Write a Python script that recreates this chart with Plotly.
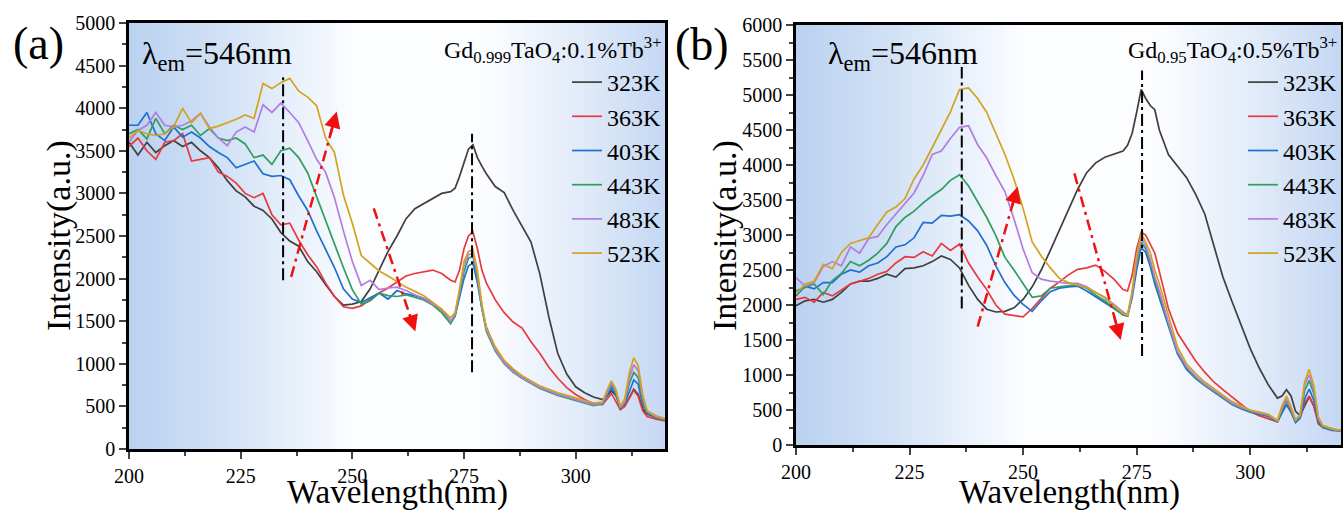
import plotly.graph_objects as go

# ---------------- data ----------------
wavelength = [200, 202, 204, 206, 208, 210, 212, 214, 216, 218, 220, 222, 224, 226, 228, 230,
              232, 234, 236, 238, 240, 242, 244, 246, 248, 250, 252, 254, 256, 258, 260, 262,
              264, 266, 268, 270, 272, 273, 274, 275, 276, 277, 278, 279, 280, 282, 284, 286,
              288, 290, 292, 294, 296, 298, 300, 302, 304, 306, 307, 308, 309, 310, 311, 312,
              313, 314, 315, 316, 318, 320]

temps = ["323K", "363K", "403K", "443K", "483K", "523K"]
colors = ["#3f3f3f", "#e8393e", "#1f6fd2", "#2f9e5e", "#b37ce0", "#d3a21e"]

# (a) Gd0.999TaO4:0.1%Tb3+
a_323 = [3600, 3450, 3600, 3480, 3560, 3620, 3550, 3600, 3500, 3420, 3300, 3150, 3030, 2960, 2850, 2800,
         2700, 2540, 2440, 2380, 2200, 2080, 1930, 1790, 1690, 1700, 1730, 1880, 2100, 2320, 2500, 2700,
         2820, 2880, 2940, 3000, 3020, 3060, 3200, 3350, 3520, 3570, 3420, 3320, 3230, 3080, 3010, 2800,
         2620, 2430, 2050, 1550, 1120, 880, 730, 660, 610, 580, 620, 680, 630, 500, 520, 600,
         700, 640, 470, 410, 370, 340]
a_363 = [3550, 3650, 3500, 3400, 3600, 3620, 3700, 3380, 3400, 3420, 3250, 3200, 3120, 3000, 2950, 3000,
         2750, 2630, 2650, 2450, 2280, 2140, 1950, 1790, 1670, 1650, 1680, 1760, 1830, 1890, 1960, 2030,
         2060, 2080, 2100, 2060, 1980, 1960, 2100, 2350, 2500, 2550, 2350, 2100, 1950, 1750, 1600, 1490,
         1420, 1260, 1120, 960, 830, 720, 640, 580, 530, 520, 580, 650, 560, 460, 500, 600,
         690, 620, 450, 380, 350, 330]
a_403 = [3800, 3800, 3950, 3700, 3620, 3780, 3660, 3720, 3650, 3550, 3480, 3420, 3300, 3340, 3380, 3230,
         3200, 3210, 3160, 2970, 2800, 2560, 2350, 2130, 1880, 1760, 1720, 1780, 1830, 1760, 1860, 1820,
         1800, 1770, 1710, 1630, 1500, 1560, 1800, 2000, 2150, 2180, 1950, 1650, 1430, 1180, 1020, 920,
         840, 780, 720, 680, 640, 610, 580, 550, 520, 530, 620, 720, 640, 480, 530, 680,
         810, 760, 520, 420, 370, 340]
a_443 = [3700, 3750, 3640, 3880, 3700, 3800, 3750, 3800, 3680, 3760, 3650, 3620, 3650, 3580, 3420, 3450,
         3340, 3500, 3530, 3420, 3240, 2960, 2680, 2420, 2130, 1870, 1700, 1740, 1830, 1800, 1790, 1810,
         1780, 1750, 1690, 1600, 1470, 1560, 1820, 2080, 2240, 2260, 2000, 1650, 1380, 1150, 1000, 900,
         830, 770, 710, 670, 630, 600, 570, 540, 510, 530, 650, 760, 660, 480, 540, 770,
         900, 840, 560, 430, 370, 340]
a_483 = [3600, 3740, 3800, 3950, 3800, 3780, 3800, 3850, 3940, 3780, 3650, 3560, 3720, 3780, 3720, 4040,
         3950, 4060, 3950, 3830, 3620, 3400, 3250, 2950, 2560, 2200, 1920, 1980, 1870, 1890, 1900, 1860,
         1810, 1770, 1700, 1640, 1500, 1580, 1850, 2150, 2280, 2300, 2050, 1680, 1400, 1170, 1010, 910,
         840, 780, 720, 680, 640, 610, 580, 550, 520, 540, 670, 780, 680, 490, 560, 830,
         990, 920, 600, 440, 380, 350]
a_523 = [3650, 3740, 3700, 3680, 3700, 3780, 4000, 3830, 3940, 3760, 3790, 3830, 3870, 3920, 3880, 4290,
         4230, 4300, 4350, 4200, 4130, 4030, 3650, 3480, 2980, 2650, 2270, 2180, 2090, 2030, 1970, 1900,
         1850, 1800, 1720, 1640, 1540, 1600, 1880, 2200, 2320, 2340, 2100, 1700, 1420, 1200, 1040, 940,
         860, 800, 740, 700, 660, 630, 600, 570, 540, 550, 690, 800, 700, 500, 590, 890,
         1070, 980, 640, 450, 390, 360]

# (b) Gd0.95TaO4:0.5%Tb3+
b_323 = [1990, 2060, 2080, 2040, 2080, 2180, 2300, 2340, 2340, 2380, 2440, 2400, 2520, 2530, 2560, 2620,
         2700, 2650, 2530, 2280, 2080, 1940, 1900, 1910, 1960, 2080, 2260, 2500, 2780, 3070, 3360, 3650,
         3890, 4030, 4110, 4160, 4200, 4280, 4450, 4750, 5080, 4950, 4850, 4790, 4500, 4150, 3980, 3820,
         3580, 3300, 2850, 2400, 2050, 1700, 1380, 1100, 860, 670, 700, 790, 700, 480, 420, 560,
         690, 560, 350, 260, 220, 200]
b_363 = [2080, 2110, 2040, 2180, 2130, 2220, 2300, 2340, 2380, 2440, 2480, 2600, 2690, 2680, 2760, 2700,
         2880, 2780, 2870, 2600, 2400, 2220, 2000, 1870, 1850, 1830, 1950, 2100, 2240, 2330, 2430, 2510,
         2530, 2570, 2480, 2370, 2220, 2200, 2420, 2800, 3040, 3000, 2880, 2740, 2480, 1950, 1600, 1400,
         1200, 1040, 900, 790, 690, 580, 480, 420, 380, 330, 480, 570, 470, 330, 390, 600,
         700, 560, 300, 250, 220, 210]
b_403 = [2130, 2270, 2230, 2320, 2320, 2440, 2500, 2470, 2560, 2600, 2690, 2830, 2860, 2960, 3180, 3170,
         3280, 3270, 3290, 3200, 3060, 2850, 2560, 2320, 2140, 2010, 1910, 2060, 2190, 2240, 2260, 2270,
         2200, 2120, 2040, 1950, 1860, 1840, 2100, 2500, 2820, 2750, 2550, 2300, 2100, 1700, 1300, 1080,
         950, 850, 760, 670, 580, 520, 470, 440, 410, 330, 460, 580, 470, 320, 380, 660,
         800, 640, 330, 250, 210, 200]
b_443 = [2200, 2250, 2300, 2150, 2350, 2450, 2620, 2560, 2640, 2740, 2880, 3120, 3250, 3340, 3460, 3560,
         3650, 3780, 3860, 3700, 3480, 3250, 2990, 2680, 2500, 2300, 2110, 2130, 2240, 2260, 2270, 2290,
         2240, 2140, 2060, 1960, 1860, 1840, 2150, 2600, 2900, 2800, 2600, 2350, 2150, 1720, 1320, 1100,
         960, 860, 770, 680, 590, 530, 480, 450, 420, 340, 500, 630, 500, 340, 400, 780,
         920, 740, 360, 260, 220, 200]
b_483 = [2390, 2270, 2320, 2550, 2620, 2560, 2830, 2740, 2950, 2980, 3150, 3300, 3440, 3600, 3850, 4150,
         4200, 4380, 4540, 4560, 4290, 4100, 3850, 3620, 3230, 2800, 2460, 2370, 2340, 2320, 2310, 2310,
         2260, 2180, 2110, 2010, 1900, 1860, 2150, 2650, 2950, 2850, 2650, 2400, 2200, 1750, 1340, 1120,
         980, 870, 780, 690, 600, 540, 490, 460, 430, 340, 530, 660, 520, 350, 420, 860,
         1000, 800, 380, 270, 230, 200]
b_523 = [2150, 2300, 2340, 2580, 2520, 2750, 2880, 2920, 2960, 3150, 3330, 3400, 3520, 3800, 4000, 4250,
         4500, 4760, 5080, 5100, 4950, 4750, 4450, 4150, 3800, 3380, 2900, 2700, 2530, 2380, 2320, 2290,
         2250, 2180, 2100, 1990, 1880, 1850, 2200, 2700, 3020, 2900, 2750, 2500, 2300, 1850, 1400, 1160,
         1020, 900, 800, 710, 620, 560, 500, 470, 440, 350, 560, 700, 550, 360, 440, 900,
         1080, 850, 400, 280, 230, 210]

series_a = [a_323, a_363, a_403, a_443, a_483, a_523]
series_b = [b_323, b_363, b_403, b_443, b_483, b_523]

# guide lines (wavelength, y from, y to)
guides_a = [(234.5, 1980, 4400), (276.8, 900, 3700)]
guides_b = [(236.5, 1950, 5400), (276.2, 1270, 5350)]
# trend arrows (x0, y0) -> (x1, y1)
arrows_a = [((236.3, 2020), (246.5, 3960)), ((254.8, 2825), (264.1, 1380))]
arrows_b = [((240.0, 1690), (248.8, 3690)), ((261.3, 3880), (271.5, 1500))]

bg_x = [200, 210, 220, 230, 240, 250, 260, 270, 280, 290, 300, 310, 320]

FONT = "Liberation Serif"
W, H = 1343, 510

fig = go.Figure()

bg_scale = [[0.0, "rgb(186,209,240)"], [0.18, "rgb(210,226,246)"], [0.42, "rgb(252,253,255)"],
            [0.66, "rgb(252,253,255)"], [0.86, "rgb(222,233,248)"], [1.0, "rgb(196,215,243)"]]

for xa, ya, ymax in [("x", "y", 5000), ("x2", "y2", 6000)]:
    fig.add_trace(go.Heatmap(x=bg_x, y=[0, ymax], z=[bg_x, bg_x], zmin=200, zmax=320,
                             colorscale=bg_scale, zsmooth="best", showscale=False,
                             hoverinfo="skip", showlegend=False, xaxis=xa, yaxis=ya))

for i, t in enumerate(temps):
    fig.add_trace(go.Scatter(x=wavelength, y=series_a[i], mode="lines", name=t,
                             line=dict(color=colors[i], width=1.7), xaxis="x", yaxis="y",
                             legend="legend"))
for i, t in enumerate(temps):
    fig.add_trace(go.Scatter(x=wavelength, y=series_b[i], mode="lines", name=t,
                             line=dict(color=colors[i], width=1.7), xaxis="x2", yaxis="y2",
                             legend="legend2"))

shapes = []
annotations = []
for (guides, arrows, xr, yr) in [(guides_a, arrows_a, "x", "y"), (guides_b, arrows_b, "x2", "y2")]:
    for gx, gy0, gy1 in guides:
        shapes.append(dict(type="line", xref=xr, yref=yr, x0=gx, x1=gx, y0=gy0, y1=gy1,
                           line=dict(color="black", width=2, dash="12px,4px,3px,4px")))
    for (x0, y0), (x1, y1) in arrows:
        shapes.append(dict(type="line", xref=xr, yref=yr, x0=x0, y0=y0,
                           x1=x0 + 0.9 * (x1 - x0), y1=y0 + 0.9 * (y1 - y0),
                           line=dict(color="#f01010", width=2.5, dash="11px,5px,3px,5px")))
        annotations.append(dict(xref=xr, yref=yr, axref=xr, ayref=yr, x=x1, y=y1,
                                ax=x0 + 0.85 * (x1 - x0), ay=y0 + 0.85 * (y1 - y0),
                                text="", showarrow=True, arrowhead=2, arrowsize=1.3,
                                arrowwidth=2.5, arrowcolor="#f01010"))

def px_x(p):
    return p / W

def px_y(p):
    return 1 - p / H

def label(text, x, y, size, xanchor="center", angle=0):
    return dict(text=text, x=px_x(x), y=px_y(y), xref="paper", yref="paper",
                xanchor=xanchor, yanchor="middle", showarrow=False, textangle=angle,
                font=dict(family=FONT, size=size, color="black"))

annotations += [
    label("(a)", 38, 43, 46),
    label("(b)", 702, 44, 46),
    label("Intensity(a.u.)", 59, 236, 34, angle=-90),
    label("Intensity(a.u.)", 725, 236, 34, angle=-90),
    label("Wavelength(nm)", 397, 492, 33),
    label("Wavelength(nm)", 1069, 492, 33),
    label("λ<sub>em</sub>=546nm", 140, 55, 32, xanchor="left"),
    label("λ<sub>em</sub>=546nm", 826, 55, 32, xanchor="left"),
    label("Gd<sub>0.999</sub>TaO<sub>4</sub>:0.1%Tb<sup>3+</sup>", 664, 50, 24, xanchor="right"),
    label("Gd<sub>0.95</sub>TaO<sub>4</sub>:0.5%Tb<sup>3+</sup>", 1339, 50, 24, xanchor="right"),
]

tickfont = dict(family=FONT, size=20, color="black")
common_x = dict(range=[200, 320], tick0=200, dtick=25, ticks="outside", ticklen=7, tickwidth=2,
                showline=True, linewidth=2.5, linecolor="black", mirror=True, showgrid=False,
                zeroline=False, tickfont=tickfont, automargin=False,
                minor=dict(dtick=12.5, tick0=200, ticks="outside", ticklen=4, tickwidth=2))
common_y = dict(tick0=0, dtick=500, ticks="outside", ticklen=7, tickwidth=2, showline=True,
                linewidth=2.5, linecolor="black", mirror=True, showgrid=False, zeroline=False,
                tickfont=tickfont, automargin=False,
                minor=dict(dtick=250, tick0=0, ticks="outside", ticklen=4, tickwidth=2))

legend_common = dict(xanchor="right", yanchor="top", bgcolor="rgba(0,0,0,0)", borderwidth=0,
                     font=dict(family=FONT, size=24, color="black"), tracegroupgap=0,
                     itemclick=False, itemdoubleclick=False)

fig.update_layout(
    template="none",
    width=W, height=H, margin=dict(l=0, r=0, t=0, b=0, pad=0, autoexpand=False),
    paper_bgcolor="white", plot_bgcolor="white",
    xaxis=dict(domain=[129 / W, 665 / W], anchor="y", **common_x),
    yaxis=dict(domain=[px_y(449), px_y(23)], anchor="x", range=[0, 5000], **common_y),
    xaxis2=dict(domain=[796 / W, 1341 / W], anchor="y2", **common_x),
    yaxis2=dict(domain=[px_y(445), px_y(25)], anchor="x2", range=[0, 6000], **common_y),
    legend=dict(x=px_x(666), y=px_y(60), **legend_common),
    legend2=dict(x=px_x(1342), y=px_y(60), **legend_common),
    shapes=shapes, annotations=annotations,
    font=dict(family=FONT, color="black"),
)

fig.write_html("out.html")
